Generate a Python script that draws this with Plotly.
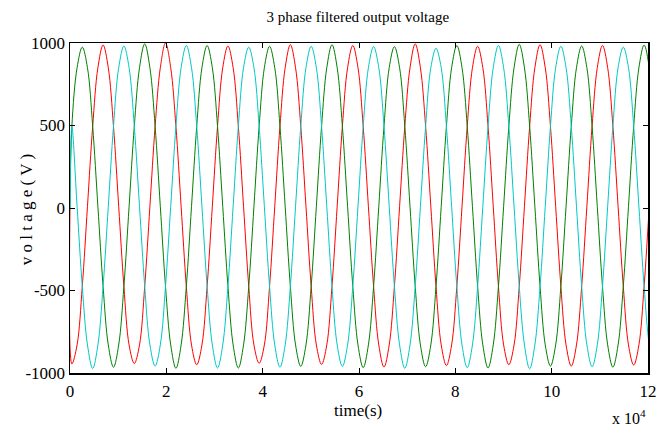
import plotly.graph_objects as go

# sample times (s)
time = [0, 390, 1470, 2550, 3630, 4710, 5790, 6870, 7950, 9030, 10110, 11190, 12270,
        13350, 14430, 15510, 16590, 17670, 18750, 19830, 20910, 21990, 23070, 24150, 25230,
        26310, 27390, 28470, 29550, 30630, 31710, 32790, 33870, 34950, 36030, 37110, 38190,
        39270, 40350, 41430, 42510, 43590, 44670, 45750, 46830, 47910, 48990, 50070, 51150,
        52230, 53310, 54390, 55470, 56550, 57630, 58710, 59790, 60870, 61950, 63030, 64110,
        65190, 66270, 67350, 68430, 69510, 70590, 71670, 72750, 73830, 74910, 75990, 77070,
        78150, 79230, 80310, 81390, 82470, 83550, 84630, 85710, 86790, 87870, 88950, 90030,
        91110, 92190, 93270, 94350, 95430, 96510, 97590, 98670, 99750, 100830, 101910, 102990,
        104070, 105150, 106230, 107310, 108390, 109470, 110550, 111630, 112710, 113790, 114870, 115950,
        117030, 118110, 119190, 120270, 121350]

phase_a = [0,  # red
           -945, -830, -475, 10, 495, 850, 988, 850, 495, 10, -475, -830,
           -942, -830, -475, 10, 495, 850, 1000, 850, 495, 10, -475, -830,
           -950, -830, -475, 10, 495, 850, 982, 850, 495, 10, -475, -830,
           -941, -830, -475, 10, 495, 850, 990, 850, 495, 10, -475, -830,
           -948, -830, -475, 10, 495, 850, 985, 850, 495, 10, -475, -830,
           -964, -830, -475, 10, 495, 850, 995, 850, 495, 10, -475, -830,
           -955, -830, -475, 10, 495, 850, 980, 850, 495, 10, -475, -830,
           -950, -830, -475, 10, 495, 850, 990, 850, 495, 10, -475, -830,
           -958, -830, -475, 10, 495, 850, 985, 850, 495, 10, -475, -830,
           -952, -830, -475, 10, 495]

phase_b = [0,  # green
           495, 850, 975, 850, 495, 10, -475, -830, -965, -830, -475, 10,
           495, 850, 995, 850, 495, 10, -475, -830, -972, -830, -475, 10,
           495, 850, 985, 850, 495, 10, -475, -830, -970, -830, -475, 10,
           495, 850, 980, 850, 495, 10, -475, -830, -960, -830, -475, 10,
           495, 850, 990, 850, 495, 10, -475, -830, -968, -830, -475, 10,
           495, 850, 978, 850, 495, 10, -475, -830, -962, -830, -475, 10,
           495, 850, 985, 850, 495, 10, -475, -830, -970, -830, -475, 10,
           495, 850, 992, 850, 495, 10, -475, -830, -958, -830, -475, 10,
           495, 850, 982, 850, 495, 10, -475, -830, -965, -830, -475, 10,
           495, 850, 988, 850, 495]

phase_c = [0,  # cyan
           495, 10, -475, -830, -973, -830, -475, 10, 495, 850, 982, 850,
           495, 10, -475, -830, -958, -830, -475, 10, 495, 850, 985, 850,
           495, 10, -475, -830, -970, -830, -475, 10, 495, 850, 975, 850,
           495, 10, -475, -830, -965, -830, -475, 10, 495, 850, 980, 850,
           495, 10, -475, -830, -960, -830, -475, 10, 495, 850, 978, 850,
           495, 10, -475, -830, -972, -830, -475, 10, 495, 850, 968, 850,
           495, 10, -475, -830, -968, -830, -475, 10, 495, 850, 985, 850,
           495, 10, -475, -830, -975, -830, -475, 10, 495, 850, 980, 850,
           495, 10, -475, -830, -962, -830, -475, 10, 495, 850, 975, 850,
           495, 10, -475, -830, -970]

x_tickvals = [0, 20000, 40000, 60000, 80000, 100000, 120000]
x_ticktext = ["0", "2", "4", "6", "8", "10", "12"]
y_tickvals = [-1000, -500, 0, 500, 1000]
y_ticktext = ["-1000", "-500", "0", "500", "1000"]

FONT = "Liberation Serif"

fig = go.Figure()
for vals, col in [(phase_a, "#FF0000"), (phase_b, "#008000"), (phase_c, "#00C8C8")]:
    fig.add_trace(go.Scatter(x=time, y=vals, mode="lines",
                             line=dict(color=col, width=1, shape="spline", smoothing=1.0),
                             showlegend=False, hoverinfo="skip"))

axis_common = dict(showline=True, linecolor="black", linewidth=1.5, mirror="ticks",
                   ticks="inside", ticklen=5, tickwidth=1, tickcolor="black",
                   showgrid=False, zeroline=False, automargin=False,
                   tickfont=dict(family=FONT, size=17, color="black"))

fig.update_xaxes(range=[0, 120000], tickvals=x_tickvals, ticktext=x_ticktext,
                 ticklabelstandoff=2, **axis_common)
fig.update_yaxes(range=[-1000, 1000], tickvals=y_tickvals, ticktext=y_ticktext,
                 ticklabelstandoff=0, **axis_common)

fig.update_layout(
    width=658, height=429,
    margin=dict(l=70, r=10, t=43, b=56),
    paper_bgcolor="white", plot_bgcolor="white",
    hovermode=False,
    title=dict(text="3 phase filtered output voltage", x=0.498, xref="paper",
               y=1 - 17 / 429, yref="container", xanchor="center", yanchor="middle",
               font=dict(family=FONT, size=15, color="black")),
    annotations=[
        dict(text="v o l t a g e ( V )", xref="paper", yref="paper", x=-0.074, y=0.494,
             textangle=-90, showarrow=False, xanchor="center", yanchor="middle",
             font=dict(family=FONT, size=17, color="black")),
        dict(text="time(s)", xref="paper", yref="paper", x=0.498, y=-0.115,
             showarrow=False, xanchor="center", yanchor="middle",
             font=dict(family=FONT, size=17, color="black")),
        dict(text="x 10<sup>4</sup>", xref="paper", yref="paper", x=1.0, y=-0.132,
             showarrow=False, xanchor="right", yanchor="middle",
             font=dict(family=FONT, size=16, color="black")),
    ],
)

fig.write_html(
    "out.html",
    config={"displayModeBar": False, "staticPlot": True},
    post_script="document.body.style.margin='0';document.body.style.overflow='hidden';",
)
